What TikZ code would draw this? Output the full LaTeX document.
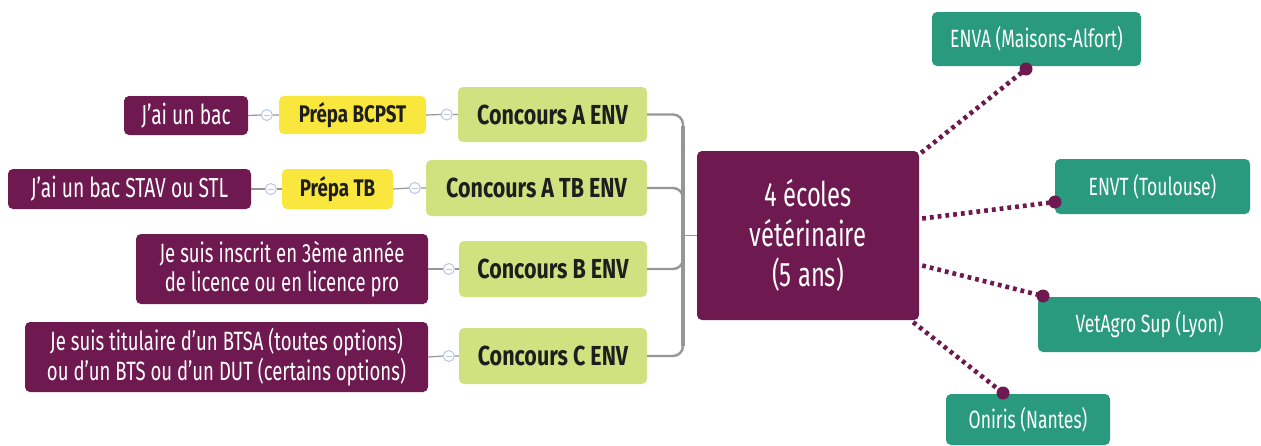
\documentclass[tikz,border=0pt]{standalone}
\usepackage{fontspec}
\setmainfont{Fira Sans}[FakeStretch=0.7, BoldFeatures={FakeStretch=0.78}]
\usetikzlibrary{calc}
\definecolor{vpurple}{RGB}{110,26,80}
\definecolor{vteal}{RGB}{42,154,127}
\definecolor{vyellow}{RGB}{250,231,62}
\definecolor{vgreen}{RGB}{208,226,128}
\definecolor{vdark}{RGB}{30,30,30}
\definecolor{vgray}{RGB}{150,150,150}
\definecolor{vtoggle}{RGB}{185,198,228}
\tikzset{
  box/.style={rounded corners=5pt, inner sep=0pt, align=center},
  purplebox/.style={box, fill=vpurple, text=white, font=\fontsize{27.5}{30}\selectfont},
  purpletwo/.style={box, fill=vpurple, text=white, font=\fontsize{26.5}{29.5}\selectfont},
  yellowbox/.style={box, fill=vyellow, text=vdark, font=\bfseries\fontsize{24}{28}\selectfont},
  greenbox/.style={box, fill=vgreen, text=vdark, font=\bfseries\fontsize{27.5}{30}\selectfont},
  hubbox/.style={box, fill=vpurple, text=white, font=\fontsize{34}{40}\selectfont},
  tealbox/.style={box, fill=vteal, text=white, font=\fontsize{25}{28}\selectfont},
  link/.style={draw=vgray, line width=1.2pt},
  toggle/.style={circle, draw=vtoggle, fill=white, line width=1pt, inner sep=0pt, minimum size=11pt,
    path picture={\draw[vtoggle, line width=0.9pt] ($(path picture bounding box.center)+(-3,0)$) -- ($(path picture bounding box.center)+(3,0)$);}},
  branch/.style={draw=vgray, line width=2.4pt, rounded corners=10pt},
  spine/.style={draw=vgray, line width=4.5pt},
  dotline/.style={draw=vpurple, line width=4.6pt, dash pattern=on 3.8pt off 4pt},
  enddot/.style={circle, fill=vpurple, inner sep=0pt, minimum size=13pt},
}
\begin{document}
\begin{tikzpicture}[x=1pt,y=-1pt]
\useasboundingbox (0,0) rectangle (1261,445);
% left column
\node[purplebox, minimum width=124pt, minimum height=39pt] (bac) at (186,115.5) {J'ai un bac};
\node[yellowbox, minimum width=147pt, minimum height=38pt] (bcpst) at (352.5,115) {Prépa BCPST};
\node[greenbox, minimum width=189pt, minimum height=55pt] (cA) at (552.5,114.5) {Concours A ENV};
\node[purplebox, minimum width=243pt, minimum height=40pt] (stav) at (129.5,189) {J'ai un bac STAV ou STL};
\node[yellowbox, minimum width=111pt, minimum height=40pt] (tb) at (337.5,189) {Prépa TB};
\node[greenbox, minimum width=221pt, minimum height=56pt] (cATB) at (536.5,188) {Concours A TB ENV};
\node[purpletwo, minimum width=292pt, minimum height=70pt] (insc) at (282,269) {Je suis inscrit en 3ème année\\de licence ou en licence pro};
\node[greenbox, minimum width=188pt, minimum height=56pt] (cB) at (553,269) {Concours B ENV};
\node[purpletwo, minimum width=403pt, minimum height=70pt] (tit) at (226.5,357) {Je suis titulaire d'un BTSA (toutes options)\\ou d'un BTS ou d'un DUT (certains options)};
\node[greenbox, minimum width=188pt, minimum height=56pt] (cC) at (553,356) {Concours C ENV};
% hub and schools
\node[hubbox, minimum width=222pt, minimum height=169pt] (hub) at (808,235.5) {4 écoles\\vétérinaire\\(5 ans)};
\node[tealbox, minimum width=209pt, minimum height=54pt] (enva) at (1036.5,39) {ENVA (Maisons-Alfort)};
\node[tealbox, minimum width=195pt, minimum height=55pt] (envt) at (1152.5,186.5) {ENVT (Toulouse)};
\node[tealbox, minimum width=223pt, minimum height=55pt] (vet) at (1149.5,324.5) {VetAgro Sup (Lyon)};
\node[tealbox, minimum width=164pt, minimum height=51pt] (oni) at (1028,419.5) {Oniris (Nantes)};
% toggles
\node[toggle] (t1) at ($(bcpst.west)+(-12,0)$) {};
\node[toggle] (t2) at ($(cA.west)+(-11,0)$) {};
\node[toggle] (t3) at ($(tb.west)+(-11,0)$) {};
\node[toggle] (t4) at ($(cATB.west)+(-11,0)$) {};
\node[toggle] (t5) at ($(cB.west)+(-10,0)$) {};
\node[toggle] (t6) at ($(cC.west)+(-10,0)$) {};
\draw[link] (bac.east) -- (t1.west) (t1.east) -- (bcpst.west);
\draw[link] (bcpst.east) -- (t2.west) (t2.east) -- (cA.west);
\draw[link] (stav.east) -- (t3.west) (t3.east) -- (tb.west);
\draw[link] (tb.east) -- (t4.west) (t4.east) -- (cATB.west);
\draw[link] (insc.east) -- (t5.west) (t5.east) -- (cB.west);
\draw[link] (tit.east) -- (t6.west) (t6.east) -- (cC.west);
% bracket
\coordinate (sp) at (683,235.5);
\draw[spine] (683,126) -- (683,346);
\draw[branch] (cA.east) -| (sp);
\draw[branch] (cATB.east) -| (sp);
\draw[branch] (cB.east) -| (sp);
\draw[branch] (cC.east) -| (sp);
\draw[link] (sp) -- (hub.west);
% dotted connectors
\coordinate (e1) at (1026,69);
\coordinate (e2) at (1055,202);
\coordinate (e3) at (1043,296);
\coordinate (e4) at (1003,393);
\coordinate (h1) at ($(hub.north east)+(2,2)$);
\coordinate (h2) at ($(hub.east)+(3,-17)$);
\coordinate (h3) at ($(hub.east)+(3,30)$);
\coordinate (h4) at ($(hub.south east)+(-6,2)$);
\draw[dotline] (h1) -- (e1);
\draw[dotline] (h2) -- (e2);
\draw[dotline] (h3) -- (e3);
\draw[dotline] (h4) -- (e4);
\node[enddot] (d1) at (e1) {};
\node[enddot] (d2) at (e2) {};
\node[enddot] (d3) at (e3) {};
\node[enddot] (d4) at (e4) {};
\end{tikzpicture}
\end{document}
